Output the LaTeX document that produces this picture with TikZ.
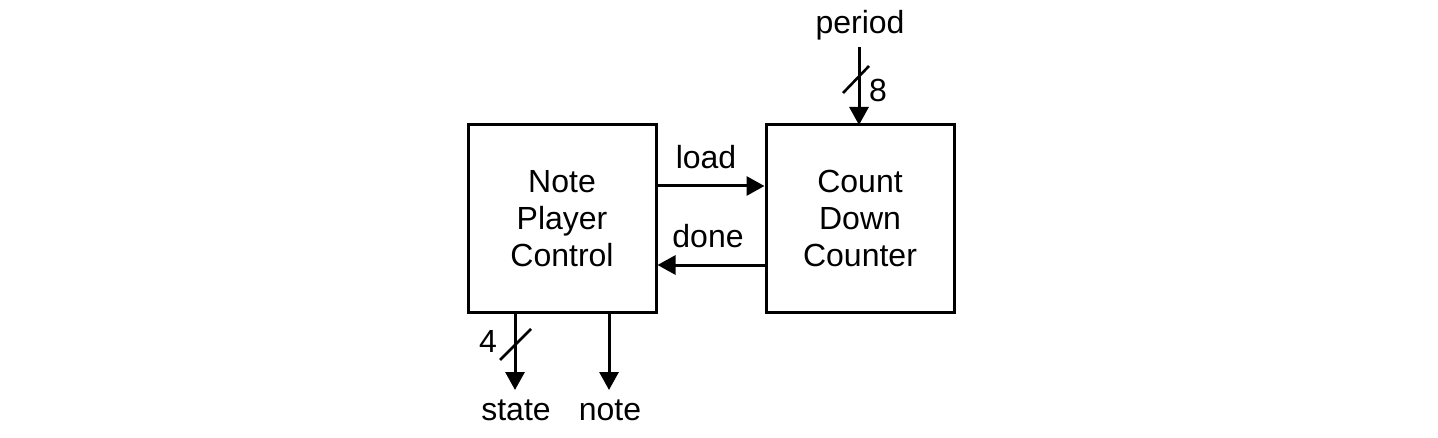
\documentclass[tikz,border=0pt]{standalone}
\usepackage{fontspec}
\setmainfont{Liberation Sans}
\usetikzlibrary{arrows.meta}
\begin{document}
\begin{tikzpicture}[x=0.5pt,y=-0.5pt,
  blk/.style={draw,line width=1.5pt,minimum width=94pt,minimum height=93.5pt,inner sep=0pt,align=center,font=\fontsize{16}{18.5}\selectfont},
  lbl/.style={inner sep=0pt,font=\fontsize{16}{18.5}\selectfont},
  sig/.style={line width=1.5pt,-{Triangle[length=9pt,width=9.5pt]}},
  bus/.style={line width=1.3pt}]
\useasboundingbox (0,0) rectangle (1438,438);
\node[blk] (npc) at (562,218.5) {Note\\Player\\Control};
\node[blk] (cdc) at (860,218.5) {Count\\Down\\Counter};
% load / done
\coordinate (loadL) at (npc.east |- 0,186);
\coordinate (loadR) at (cdc.west |- 0,186);
\draw[sig] (loadL) -- (loadR);
\node[lbl] (loadt) at (706,157) {load};
\coordinate (doneR) at (cdc.west |- 0,265);
\coordinate (doneL) at (npc.east |- 0,265);
\draw[sig] (doneR) -- (doneL);
\node[lbl] (donet) at (708,236) {done};
% period
\node[lbl] (period) at (860,25) {period};
\coordinate (pTop) at (859,47);
\draw[sig] (pTop) -- (859,125);
\coordinate (ps1) at (843,93);
\coordinate (ps2) at (869,66);
\draw[bus] (ps1) -- (ps2);
\node[lbl] (eight) at (878,90) {8};
% state
\coordinate (sTop) at (515,312);
\coordinate (sBot) at (515,390);
\draw[sig] (sTop) -- (sBot);
\coordinate (ss1) at (500,360);
\coordinate (ss2) at (531,329);
\draw[bus] (ss1) -- (ss2);
\node[lbl] (four) at (488,341) {4};
\node[lbl] (state) at (516,410) {state};
% note
\coordinate (nTop) at (609,312);
\coordinate (nBot) at (609,390);
\draw[sig] (nTop) -- (nBot);
\node[lbl] (note) at (610,410) {note};
\end{tikzpicture}
\end{document}
